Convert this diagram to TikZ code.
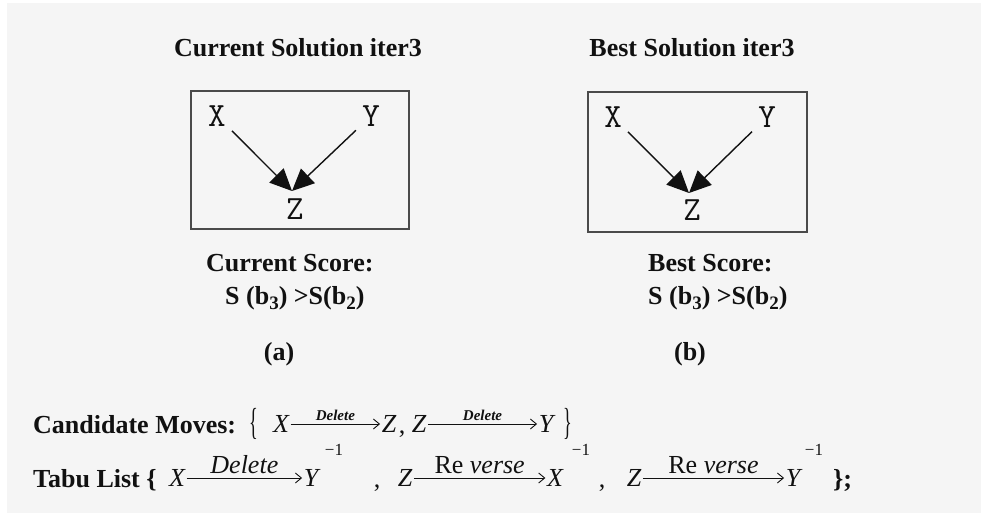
\documentclass[tikz,border=0pt]{standalone}
\usepackage{fontspec}
\setmainfont{Liberation Serif}
\usetikzlibrary{arrows.meta}
\definecolor{bgc}{HTML}{F5F5F5}
\definecolor{boxc}{HTML}{4A4A4A}
\definecolor{inkc}{HTML}{111111}
\tikzset{
  x=1pt, y=-1pt,
  boldtxt/.style={font=\fontsize{26}{30}\selectfont\bfseries, text=inkc, inner sep=0pt},
  frame/.style={draw=boxc, line width=1.6pt, inner sep=0pt},
  boxletter/.style={font=\fontsize{34}{38}\ttfamily, text=inkc, inner sep=1pt},
  bigarrow/.style={draw=inkc, line width=1.4pt, -{Triangle[length=22pt,width=20pt]}},
  mletter/.style={font=\fontsize{26}{30}\selectfont\itshape, text=inkc, inner sep=1.5pt},
  plain/.style={font=\fontsize{26}{30}\selectfont, text=inkc, inner sep=0pt},
  supone/.style={font=\fontsize{17}{20}\selectfont, text=inkc, inner sep=0pt},
  thinarrow/.style={draw=inkc, line width=0.9pt, -{Straight Barb[length=6pt,width=10pt]}},
  smalllbl/.style={font=\fontsize{15}{18}\selectfont\bfseries\itshape, text=inkc, inner sep=1pt},
  biglbl/.style={font=\fontsize{26}{30}\selectfont, text=inkc, inner sep=1pt},
}
\newcommand{\subn}[1]{\raisebox{-5pt}{\fontsize{19}{20}\selectfont #1}}
\begin{document}
\begin{tikzpicture}
\fill[white] (0,0) rectangle (981,513);
\fill[bgc] (7,3) rectangle (981,513);
\useasboundingbox (0,0) rectangle (981,513);

% titles
\node[boldtxt, anchor=base] (t1) at (298,57) {Current Solution iter3};
\node[boldtxt, anchor=base] (t2) at (692,57) {Best Solution iter3};

% boxes
\node[frame, minimum width=218pt, minimum height=138pt] (box1) at (300,160) {};
\node[frame, minimum width=219pt, minimum height=140pt] (box2) at (697.5,162) {};

% left graph
\node[boxletter] (X1) at (217,116) {X};
\node[boxletter] (Y1) at (371,116) {Y};
\node[boxletter] (Z1) at (295,209) {Z};
\coordinate (tip1) at (292,191);
\draw[bigarrow, shorten <=7pt] (X1) -- (tip1);
\draw[bigarrow, shorten <=7pt] (Y1) -- (tip1);

% right graph
\node[boxletter] (X2) at (613,117) {X};
\node[boxletter] (Y2) at (767,117) {Y};
\node[boxletter] (Z2) at (692,210) {Z};
\coordinate (tip2) at (689,193);
\draw[bigarrow, shorten <=7pt] (X2) -- (tip2);
\draw[bigarrow, shorten <=7pt] (Y2) -- (tip2);

% scores
\node[boldtxt, anchor=base west] (cs) at (206,271) {Current Score:};
\node[boldtxt, anchor=base west] (cv) at (225,304) {S (b\subn{3}) >S(b\subn{2})};
\node[boldtxt, anchor=base] (la) at (279,360) {(a)};
\node[boldtxt, anchor=base west] (bs) at (648,271) {Best Score:};
\node[boldtxt, anchor=base west] (bv) at (648,304) {S (b\subn{3}) >S(b\subn{2})};
\node[boldtxt, anchor=base] (lb) at (690,360) {(b)};

% candidate moves
\node[boldtxt, anchor=base west] (cm) at (33,433) {Candidate Moves:};
\node[plain, anchor=center] (cbo) at (254,424) {\scalebox{0.7}[1.45]{\{}};
\node[mletter] (cX) at (281,424) {X};
\node[mletter] (cZa) at (389,424) {Z};
\node[plain, anchor=base] (cc) at (402,433) {,};
\node[mletter] (cZb) at (419,424) {Z};
\node[mletter] (cY) at (546,424) {Y};
\node[plain, anchor=center] (cbc) at (568,424) {\scalebox{0.7}[1.45]{\}}};
\draw[thinarrow] (cX) -- node[smalllbl, above=2pt] (cl1) {Delete} (cZa);
\draw[thinarrow] (cZb) -- node[smalllbl, above=2pt] (cl2) {Delete} (cY);

% tabu list
\node[boldtxt, anchor=base west] (tl) at (33,487) {Tabu List \{};
\node[mletter] (tX) at (177,478) {X};
\node[mletter] (tY) at (311,478) {Y};
\node[supone] (s1) at (334,450) {−1};
\node[plain, anchor=base] (tc1) at (377,487) {,};
\node[mletter] (tZa) at (405,478) {Z};
\node[mletter] (tXb) at (555,478) {X};
\node[supone] (s2) at (581,450) {−1};
\node[plain, anchor=base] (tc2) at (602,487) {,};
\node[mletter] (tZb) at (634,478) {Z};
\node[mletter] (tYb) at (793,478) {Y};
\node[supone] (s3) at (814,450) {−1};
\node[boldtxt, anchor=base west] (tend) at (833,487) {\};};
\draw[thinarrow] (tX) -- node[biglbl, above=3pt] (tl1) {\textit{Delete}} (tY);
\draw[thinarrow] (tZa) -- node[biglbl, above=3pt] (tl2) {Re \textit{verse}} (tXb);
\draw[thinarrow] (tZb) -- node[biglbl, above=3pt] (tl3) {Re \textit{verse}} (tYb);
\end{tikzpicture}
\end{document}
